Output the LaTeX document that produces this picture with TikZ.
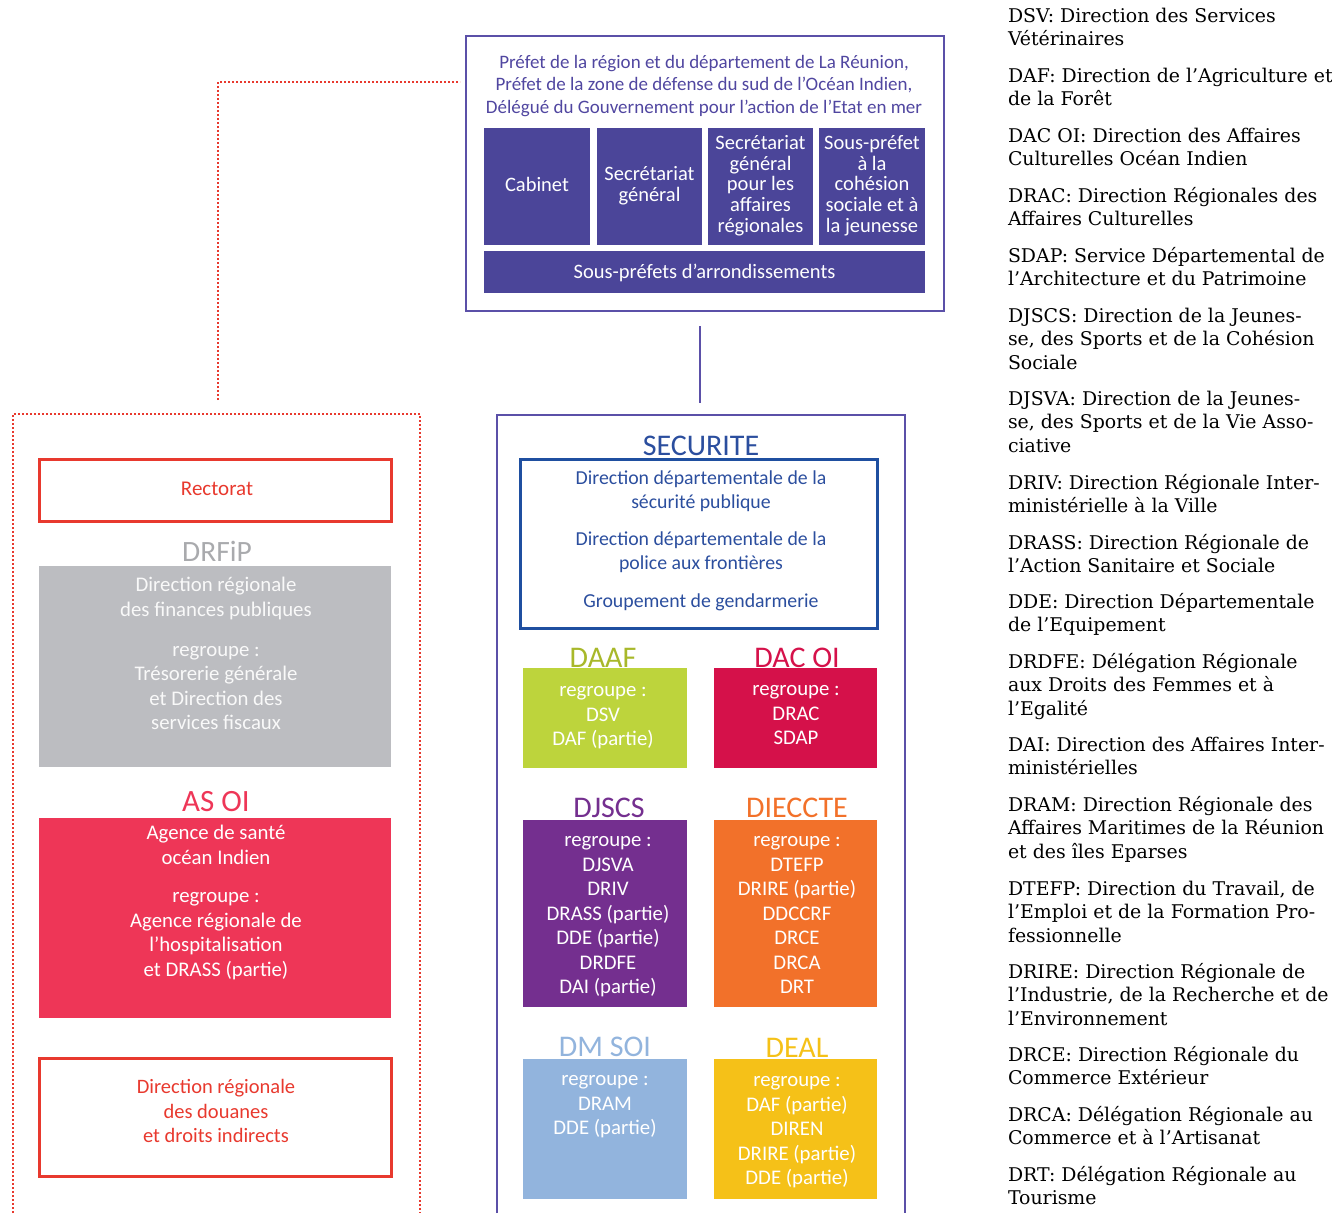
\documentclass[tikz,border=0pt]{standalone}
\usepackage{fontspec}
\setmainfont{Carlito}
\newfontfamily\legf{DejaVu Serif}
\newcommand\mlc[1]{\begin{tabular}[t]{@{}c@{}}#1\end{tabular}}
\newcommand\mll[1]{\begin{tabular}[t]{@{}l@{}}#1\end{tabular}}
\definecolor{prpframe}{HTML}{5B50A8}
\definecolor{prpfill}{HTML}{4B4599}
\definecolor{prptext}{HTML}{5046A0}
\definecolor{redl}{HTML}{E8392E}
\definecolor{grayfill}{HTML}{BCBDC1}
\definecolor{graylab}{HTML}{A9AAAD}
\definecolor{asoi}{HTML}{EE3657}
\definecolor{secblue}{HTML}{1F4FA0}
\definecolor{sectext}{HTML}{2B4E9E}
\definecolor{daaf}{HTML}{BDD43C}
\definecolor{daaflab}{HTML}{A8B82A}
\definecolor{dacoi}{HTML}{D5114A}
\definecolor{djscs}{HTML}{742F8F}
\definecolor{diecc}{HTML}{F2712A}
\definecolor{dmsoi}{HTML}{92B4DD}
\definecolor{deal}{HTML}{F5C118}
\tikzset{
  txt/.style={inner sep=0, outer sep=0, anchor=base},
  wtxt/.style={txt, text=white, font=\fontsize{20.8}{24.5}\selectfont},
  htxt/.style={txt, text=white, font=\fontsize{20.5}{20.7}\selectfont},
  lab/.style={txt, font=\fontsize{30}{32}\selectfont},
  leg/.style={inner sep=0, outer sep=0, anchor=base west, font=\legf\fontsize{18.9}{23.7}\selectfont},
  box/.style={inner sep=0, outer sep=0},
  colbox/.style={box, minimum width=164, minimum height=#1},
}
\begin{document}
\begin{tikzpicture}[x=1pt,y=-1pt]
\useasboundingbox (0,0) rectangle (1332,1213);
% ---------- top box ----------
\node[box, draw=prpframe, line width=2.5, minimum width=478, minimum height=275] (top) at (705,173.5) {};
\node[txt, text=prptext, font=\fontsize{19}{22.5}\selectfont] (toptxt) at (704,68)
  {\mlc{Préfet de la région et du département de La Réunion,\\Préfet de la zone de défense du sud de l’Océan Indien,\\Délégué du Gouvernement pour l’action de l’Etat en mer}};
\node[box, fill=prpfill, minimum width=106, minimum height=117] (cab) at (537,186.5) {};
\node[box, fill=prpfill, minimum width=105, minimum height=117] (sg) at (649.5,186.5) {};
\node[box, fill=prpfill, minimum width=105, minimum height=117] (sgar) at (760.5,186.5) {};
\node[box, fill=prpfill, minimum width=106, minimum height=117] (spcs) at (872,186.5) {};
\node[box, fill=prpfill, minimum width=441, minimum height=42] (spa) at (704.5,272) {};
\node[htxt] (cabt) at (537,191.5) {Cabinet};
\node[htxt] (sgt) at (649.5,180.5) {\mlc{Secrétariat\\général}};
\node[htxt] (sgart) at (760.5,149.5) {\mlc{Secrétariat\\général\\pour les\\affaires\\régionales}};
\node[htxt] (spcst) at (872,149.5) {\mlc{Sous-préfet\\à la\\cohésion\\sociale et à\\la jeunesse}};
\node[htxt] (spat) at (704.5,278.5) {Sous-préfets d’arrondissements};
% connector top -> centre
\coordinate (c1) at (700,326);
\coordinate (c2) at (700,403);
\draw[prpframe, line width=1.5] (c1) -- (c2);
% dotted red connector
\coordinate (r1) at (218,400);
\coordinate (r2) at (218,82);
\coordinate (r3) at (460,82);
\draw[redl, dotted, line width=2] (r1) -- (r2) -- (r3);
% ---------- left column ----------
\coordinate (l1) at (13,1213);
\coordinate (l2) at (13,414);
\coordinate (l3) at (420,414);
\coordinate (l4) at (420,1213);
\draw[redl, dotted, line width=2] (l1) -- (l2) -- (l3) -- (l4);
\node[box, draw=redl, line width=3, minimum width=352, minimum height=62] (rect) at (215,490) {};
\node[txt, text=redl, font=\fontsize{21}{24}\selectfont] (rectt) at (217,495) {Rectorat};
\node[lab, text=graylab, font=\fontsize{29.5}{32}\selectfont] (drfipl) at (217,561) {DRFiP};
\node[box, fill=grayfill, minimum width=352, minimum height=201] (drfip) at (215,666.5) {};
\node[wtxt, text=white!95!gray] (drfipt) at (216,591.5)
  {\mlc{Direction régionale\\des finances publiques\\[15.6pt]regroupe :\\Trésorerie générale\\et Direction des\\services fiscaux}};
\node[lab, text=asoi, font=\fontsize{31}{32}\selectfont] (asoil) at (216,811) {AS OI};
\node[box, fill=asoi, minimum width=352, minimum height=200] (asoi) at (215,918) {};
\node[wtxt] (asoit) at (216,839.5)
  {\mlc{Agence de santé\\océan Indien\\[14.4pt]regroupe :\\Agence régionale de\\l’hospitalisation\\et DRASS (partie)}};
\node[box, draw=redl, line width=3, minimum width=352, minimum height=118] (dou) at (215,1117) {};
\node[txt, text=redl, font=\fontsize{20.5}{24.5}\selectfont] (dout) at (216,1093.5)
  {\mlc{Direction régionale\\des douanes\\et droits indirects}};
% ---------- centre column ----------
\coordinate (m1) at (497,1213);
\coordinate (m2) at (497,415);
\coordinate (m3) at (905,415);
\coordinate (m4) at (905,1213);
\draw[prpframe, line width=2.5] (m1) -- (m2) -- (m3) -- (m4);
\node[lab, text=sectext] (secl) at (701,455) {SECURITE};
\node[box, draw=secblue, line width=3, minimum width=357, minimum height=169] (sec) at (698.5,543.5) {};
\node[txt, text=sectext, font=\fontsize{19.8}{24}\selectfont] (sect) at (701,484.5)
  {\mlc{Direction départementale de la\\sécurité publique\\[13pt]Direction départementale de la\\police aux frontières\\[14pt]Groupement de gendarmerie}};
\node[lab, text=daaflab] (daafl) at (603,667) {DAAF};
\node[colbox=100, fill=daaf] (daaf) at (605,718) {};
\node[wtxt] (daaft) at (603,696.5) {\mlc{regroupe :\\DSV\\DAF (partie)}};
\node[lab, text=dacoi] (dacoil) at (797,667) {DAC OI};
\node[colbox=100, fill=dacoi, minimum width=163] (dacoi) at (795.5,718) {};
\node[wtxt] (dacoit) at (796,695.5) {\mlc{regroupe :\\DRAC\\SDAP}};
\node[lab, text=djscs] (djscsl) at (609,817) {DJSCS};
\node[colbox=187, fill=djscs] (djscs) at (605,913.5) {};
\node[wtxt] (djscst) at (608,846.5) {\mlc{regroupe :\\DJSVA\\DRIV\\DRASS (partie)\\DDE (partie)\\DRDFE\\DAI (partie)}};
\node[lab, text=diecc] (dieccl) at (797,817) {DIECCTE};
\node[colbox=187, fill=diecc, minimum width=163] (diecc) at (795.5,913.5) {};
\node[wtxt] (diecct) at (797,846.5) {\mlc{regroupe :\\DTEFP\\DRIRE (partie)\\DDCCRF\\DRCE\\DRCA\\DRT}};
\node[lab, text=dmsoi] (dmsoil) at (605,1056) {DM SOI};
\node[colbox=140, fill=dmsoi] (dmsoi) at (605,1129) {};
\node[wtxt] (dmsoit) at (605,1085.5) {\mlc{regroupe :\\DRAM\\DDE (partie)}};
\node[lab, text=deal] (deall) at (797,1057) {DEAL};
\node[colbox=140, fill=deal, minimum width=163] (deal) at (795.5,1129) {};
\node[wtxt] (dealt) at (797,1086.5) {\mlc{regroupe :\\DAF (partie)\\DIREN\\DRIRE (partie)\\DDE (partie)}};
% ---------- legend ----------
\node[leg] (g1) at (1008,22) {\mll{DSV: Direction des Services\\Vétérinaires}};
\node[leg] (g2) at (1008,82) {\mll{DAF: Direction de l’Agriculture et\\de la Forêt}};
\node[leg] (g3) at (1008,142) {\mll{DAC OI: Direction des Affaires\\Culturelles Océan Indien}};
\node[leg] (g4) at (1008,202) {\mll{DRAC: Direction Régionales des\\Affaires Culturelles}};
\node[leg] (g5) at (1008,262) {\mll{SDAP: Service Départemental de\\l’Architecture et du Patrimoine}};
\node[leg] (g6) at (1008,322) {\mll{DJSCS: Direction de la Jeunes-\\se, des Sports et de la Cohésion\\Sociale}};
\node[leg] (g7) at (1008,405) {\mll{DJSVA: Direction de la Jeunes-\\se, des Sports et de la Vie Asso-\\ciative}};
\node[leg] (g8) at (1008,489) {\mll{DRIV: Direction Régionale Inter-\\ministérielle à la Ville}};
\node[leg] (g9) at (1008,549) {\mll{DRASS: Direction Régionale de\\l’Action Sanitaire et Sociale}};
\node[leg] (g10) at (1008,608) {\mll{DDE: Direction Départementale\\de l’Equipement}};
\node[leg] (g11) at (1008,668) {\mll{DRDFE: Délégation Régionale\\aux Droits des Femmes et à\\l’Egalité}};
\node[leg] (g12) at (1008,751) {\mll{DAI: Direction des Affaires Inter-\\ministérielles}};
\node[leg] (g13) at (1008,811) {\mll{DRAM: Direction Régionale des\\Affaires Maritimes de la Réunion\\et des îles Eparses}};
\node[leg] (g14) at (1008,895) {\mll{DTEFP: Direction du Travail, de\\l’Emploi et de la Formation Pro-\\fessionnelle}};
\node[leg] (g15) at (1008,978) {\mll{DRIRE: Direction Régionale de\\l’Industrie, de la Recherche et de\\l’Environnement}};
\node[leg] (g16) at (1008,1061) {\mll{DRCE: Direction Régionale du\\Commerce Extérieur}};
\node[leg] (g17) at (1008,1121) {\mll{DRCA: Délégation Régionale au\\Commerce et à l’Artisanat}};
\node[leg] (g18) at (1008,1181) {\mll{DRT: Délégation Régionale au\\Tourisme}};
\end{tikzpicture}
\end{document}
